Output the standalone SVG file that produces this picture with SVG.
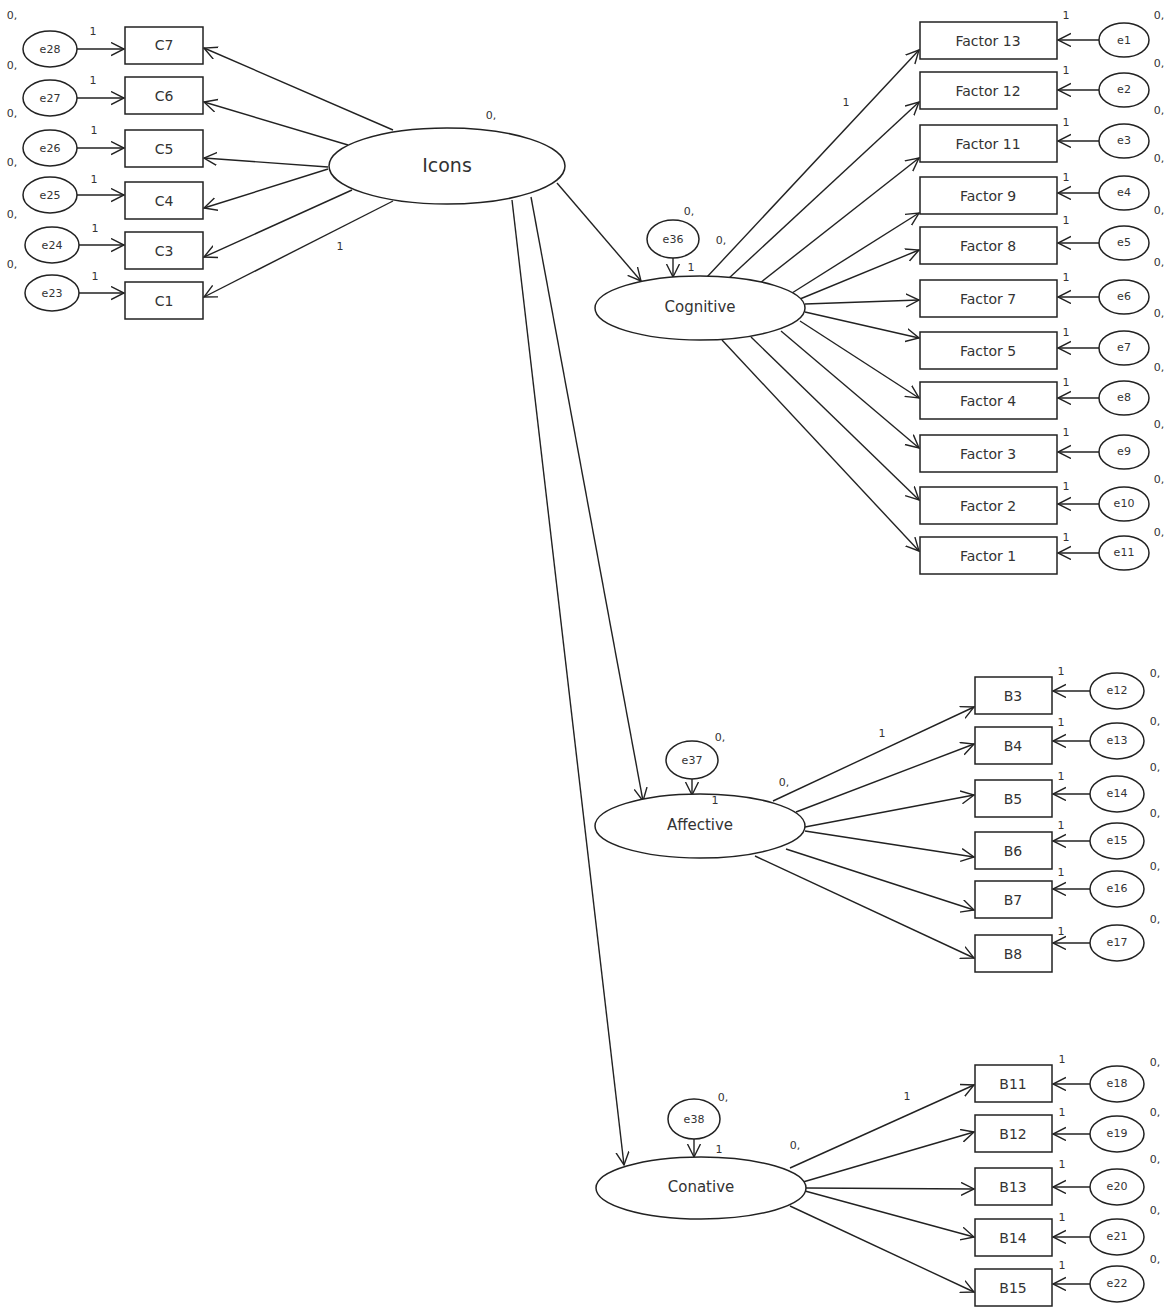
<svg xmlns="http://www.w3.org/2000/svg" width="1165" height="1307" viewBox="0 0 1165 1307">
<defs>
<marker id="arr" markerUnits="userSpaceOnUse" markerWidth="16" markerHeight="16" refX="13" refY="7" orient="auto">
<path d="M0,0.5 L13,7 L0,13.5" fill="none" stroke="#222" stroke-width="1.4"/>
</marker>
<style>
.n ellipse,.n rect{fill:#fff;stroke:#222;stroke-width:1.5}
text{font-family:"DejaVu Sans","Liberation Sans",sans-serif;fill:#333;text-anchor:middle;dominant-baseline:central}
.big{font-size:19px}
.lat{font-size:15px}
.obs{font-size:14px}
.err{font-size:11px}
.lb{font-size:11px}
#conn line{stroke:#222;stroke-width:1.4;marker-end:url(#arr)}
</style>
</defs>
<rect width="1165" height="1307" fill="#fff"/>
<g id="conn">
<line x1="393" y1="130" x2="204" y2="48"/>
<line x1="348" y1="145" x2="204" y2="102"/>
<line x1="328" y1="167" x2="204" y2="158"/>
<line x1="328" y1="169" x2="204" y2="208"/>
<line x1="352" y1="190" x2="204" y2="257"/>
<line x1="393" y1="201" x2="204" y2="297"/>
<line x1="77" y1="49" x2="124" y2="49"/>
<line x1="77" y1="98" x2="124" y2="98"/>
<line x1="77" y1="148" x2="124" y2="148"/>
<line x1="77" y1="195" x2="124" y2="195"/>
<line x1="79" y1="245" x2="124" y2="245"/>
<line x1="79" y1="293" x2="124" y2="293"/>
<line x1="557" y1="183" x2="641" y2="281"/>
<line x1="531" y1="197" x2="643" y2="801"/>
<line x1="512" y1="200" x2="624" y2="1165"/>
<line x1="673" y1="258" x2="673" y2="277"/>
<line x1="692" y1="779" x2="692" y2="795"/>
<line x1="694" y1="1139" x2="694" y2="1157"/>
<line x1="707" y1="277" x2="919" y2="50"/>
<line x1="728" y1="279" x2="919" y2="102"/>
<line x1="760" y1="283" x2="919" y2="158"/>
<line x1="792" y1="293" x2="919" y2="213"/>
<line x1="800" y1="299" x2="919" y2="250"/>
<line x1="805" y1="304" x2="919" y2="300"/>
<line x1="805" y1="312" x2="919" y2="338"/>
<line x1="800" y1="321" x2="919" y2="398"/>
<line x1="781" y1="331" x2="919" y2="448"/>
<line x1="751" y1="337" x2="919" y2="500"/>
<line x1="722" y1="340" x2="919" y2="551"/>
<line x1="1099" y1="40" x2="1058" y2="40"/>
<line x1="1099" y1="90" x2="1058" y2="90"/>
<line x1="1099" y1="141" x2="1058" y2="141"/>
<line x1="1099" y1="193" x2="1058" y2="193"/>
<line x1="1099" y1="243" x2="1058" y2="243"/>
<line x1="1099" y1="297" x2="1058" y2="297"/>
<line x1="1099" y1="348" x2="1058" y2="348"/>
<line x1="1099" y1="398" x2="1058" y2="398"/>
<line x1="1099" y1="452" x2="1058" y2="452"/>
<line x1="1099" y1="504" x2="1058" y2="504"/>
<line x1="1099" y1="553" x2="1058" y2="553"/>
<line x1="773" y1="801" x2="974" y2="707"/>
<line x1="796" y1="812" x2="974" y2="744"/>
<line x1="805" y1="827" x2="974" y2="795"/>
<line x1="805" y1="831" x2="974" y2="857"/>
<line x1="786" y1="849" x2="974" y2="910"/>
<line x1="755" y1="856" x2="974" y2="958"/>
<line x1="1090" y1="691" x2="1053" y2="691"/>
<line x1="1090" y1="741" x2="1053" y2="741"/>
<line x1="1090" y1="794" x2="1053" y2="794"/>
<line x1="1090" y1="841" x2="1053" y2="841"/>
<line x1="1090" y1="889" x2="1053" y2="889"/>
<line x1="1090" y1="943" x2="1053" y2="943"/>
<line x1="790" y1="1168" x2="974" y2="1085"/>
<line x1="803" y1="1182" x2="974" y2="1132"/>
<line x1="806" y1="1188" x2="974" y2="1189"/>
<line x1="805" y1="1191" x2="974" y2="1237"/>
<line x1="790" y1="1206" x2="974" y2="1292"/>
<line x1="1090" y1="1084" x2="1053" y2="1084"/>
<line x1="1090" y1="1134" x2="1053" y2="1134"/>
<line x1="1090" y1="1187" x2="1053" y2="1187"/>
<line x1="1090" y1="1237" x2="1053" y2="1237"/>
<line x1="1090" y1="1284" x2="1053" y2="1284"/>
</g>
<g id="icons" class="n"><ellipse cx="447" cy="166" rx="118" ry="38"/><text x="447" y="165" class="big">Icons</text></g>
<g id="cognitive" class="n"><ellipse cx="700" cy="308" rx="105" ry="32"/><text x="700" y="307" class="lat">Cognitive</text></g>
<g id="affective" class="n"><ellipse cx="700" cy="826" rx="105" ry="32"/><text x="700" y="825" class="lat">Affective</text></g>
<g id="conative" class="n"><ellipse cx="701" cy="1188" rx="105" ry="31"/><text x="701" y="1187" class="lat">Conative</text></g>
<g id="c7" class="n"><rect x="125" y="27" width="78" height="37"/><text x="164" y="45" class="obs">C7</text></g>
<g id="c6" class="n"><rect x="125" y="77" width="78" height="37"/><text x="164" y="96" class="obs">C6</text></g>
<g id="c5" class="n"><rect x="125" y="130" width="78" height="37"/><text x="164" y="149" class="obs">C5</text></g>
<g id="c4" class="n"><rect x="125" y="182" width="78" height="37"/><text x="164" y="201" class="obs">C4</text></g>
<g id="c3" class="n"><rect x="125" y="232" width="78" height="37"/><text x="164" y="251" class="obs">C3</text></g>
<g id="c1" class="n"><rect x="125" y="282" width="78" height="37"/><text x="164" y="301" class="obs">C1</text></g>
<g id="e28" class="n"><ellipse cx="50" cy="49" rx="27" ry="18"/><text x="50" y="49" class="err">e28</text></g>
<g id="e27" class="n"><ellipse cx="50" cy="98" rx="27" ry="18"/><text x="50" y="98" class="err">e27</text></g>
<g id="e26" class="n"><ellipse cx="50" cy="148" rx="27" ry="18"/><text x="50" y="148" class="err">e26</text></g>
<g id="e25" class="n"><ellipse cx="50" cy="195" rx="27" ry="18"/><text x="50" y="195" class="err">e25</text></g>
<g id="e24" class="n"><ellipse cx="52" cy="245" rx="27" ry="18"/><text x="52" y="245" class="err">e24</text></g>
<g id="e23" class="n"><ellipse cx="52" cy="293" rx="27" ry="18"/><text x="52" y="293" class="err">e23</text></g>
<g id="f13" class="n"><rect x="920" y="22" width="137" height="37"/><text x="988" y="41" class="obs">Factor 13</text></g>
<g id="f12" class="n"><rect x="920" y="72" width="137" height="37"/><text x="988" y="91" class="obs">Factor 12</text></g>
<g id="f11" class="n"><rect x="920" y="125" width="137" height="37"/><text x="988" y="144" class="obs">Factor 11</text></g>
<g id="f9" class="n"><rect x="920" y="177" width="137" height="37"/><text x="988" y="196" class="obs">Factor 9</text></g>
<g id="f8" class="n"><rect x="920" y="227" width="137" height="37"/><text x="988" y="246" class="obs">Factor 8</text></g>
<g id="f7" class="n"><rect x="920" y="280" width="137" height="37"/><text x="988" y="299" class="obs">Factor 7</text></g>
<g id="f5" class="n"><rect x="920" y="332" width="137" height="37"/><text x="988" y="351" class="obs">Factor 5</text></g>
<g id="f4" class="n"><rect x="920" y="382" width="137" height="37"/><text x="988" y="401" class="obs">Factor 4</text></g>
<g id="f3" class="n"><rect x="920" y="435" width="137" height="37"/><text x="988" y="454" class="obs">Factor 3</text></g>
<g id="f2" class="n"><rect x="920" y="487" width="137" height="37"/><text x="988" y="506" class="obs">Factor 2</text></g>
<g id="f1" class="n"><rect x="920" y="537" width="137" height="37"/><text x="988" y="556" class="obs">Factor 1</text></g>
<g id="e1" class="n"><ellipse cx="1124" cy="40" rx="25" ry="17"/><text x="1124" y="40" class="err">e1</text></g>
<g id="e2" class="n"><ellipse cx="1124" cy="90" rx="25" ry="17"/><text x="1124" y="89" class="err">e2</text></g>
<g id="e3" class="n"><ellipse cx="1124" cy="141" rx="25" ry="17"/><text x="1124" y="140" class="err">e3</text></g>
<g id="e4" class="n"><ellipse cx="1124" cy="193" rx="25" ry="17"/><text x="1124" y="192" class="err">e4</text></g>
<g id="e5" class="n"><ellipse cx="1124" cy="243" rx="25" ry="17"/><text x="1124" y="242" class="err">e5</text></g>
<g id="e6" class="n"><ellipse cx="1124" cy="297" rx="25" ry="17"/><text x="1124" y="296" class="err">e6</text></g>
<g id="e7" class="n"><ellipse cx="1124" cy="348" rx="25" ry="17"/><text x="1124" y="347" class="err">e7</text></g>
<g id="e8" class="n"><ellipse cx="1124" cy="398" rx="25" ry="17"/><text x="1124" y="397" class="err">e8</text></g>
<g id="e9" class="n"><ellipse cx="1124" cy="452" rx="25" ry="17"/><text x="1124" y="451" class="err">e9</text></g>
<g id="e10" class="n"><ellipse cx="1124" cy="504" rx="25" ry="17"/><text x="1124" y="503" class="err">e10</text></g>
<g id="e11" class="n"><ellipse cx="1124" cy="553" rx="25" ry="17"/><text x="1124" y="552" class="err">e11</text></g>
<g id="e36" class="n"><ellipse cx="673" cy="239" rx="26" ry="19"/><text x="673" y="239" class="err">e36</text></g>
<g id="e37" class="n"><ellipse cx="692" cy="760" rx="26" ry="19"/><text x="692" y="760" class="err">e37</text></g>
<g id="e38" class="n"><ellipse cx="694" cy="1119" rx="26" ry="20"/><text x="694" y="1119" class="err">e38</text></g>
<g id="b3" class="n"><rect x="975" y="677" width="77" height="37"/><text x="1013" y="696" class="obs">B3</text></g>
<g id="b4" class="n"><rect x="975" y="727" width="77" height="37"/><text x="1013" y="746" class="obs">B4</text></g>
<g id="b5" class="n"><rect x="975" y="780" width="77" height="37"/><text x="1013" y="799" class="obs">B5</text></g>
<g id="b6" class="n"><rect x="975" y="832" width="77" height="37"/><text x="1013" y="851" class="obs">B6</text></g>
<g id="b7" class="n"><rect x="975" y="881" width="77" height="37"/><text x="1013" y="900" class="obs">B7</text></g>
<g id="b8" class="n"><rect x="975" y="935" width="77" height="37"/><text x="1013" y="954" class="obs">B8</text></g>
<g id="e12" class="n"><ellipse cx="1117" cy="691" rx="27" ry="18"/><text x="1117" y="690" class="err">e12</text></g>
<g id="e13" class="n"><ellipse cx="1117" cy="741" rx="27" ry="18"/><text x="1117" y="740" class="err">e13</text></g>
<g id="e14" class="n"><ellipse cx="1117" cy="794" rx="27" ry="18"/><text x="1117" y="793" class="err">e14</text></g>
<g id="e15" class="n"><ellipse cx="1117" cy="841" rx="27" ry="18"/><text x="1117" y="840" class="err">e15</text></g>
<g id="e16" class="n"><ellipse cx="1117" cy="889" rx="27" ry="18"/><text x="1117" y="888" class="err">e16</text></g>
<g id="e17" class="n"><ellipse cx="1117" cy="943" rx="27" ry="18"/><text x="1117" y="942" class="err">e17</text></g>
<g id="b11" class="n"><rect x="975" y="1065" width="77" height="37"/><text x="1013" y="1084" class="obs">B11</text></g>
<g id="b12" class="n"><rect x="975" y="1115" width="77" height="37"/><text x="1013" y="1134" class="obs">B12</text></g>
<g id="b13" class="n"><rect x="975" y="1168" width="77" height="37"/><text x="1013" y="1187" class="obs">B13</text></g>
<g id="b14" class="n"><rect x="975" y="1219" width="77" height="37"/><text x="1013" y="1238" class="obs">B14</text></g>
<g id="b15" class="n"><rect x="975" y="1269" width="77" height="37"/><text x="1013" y="1288" class="obs">B15</text></g>
<g id="e18" class="n"><ellipse cx="1117" cy="1084" rx="27" ry="18"/><text x="1117" y="1083" class="err">e18</text></g>
<g id="e19" class="n"><ellipse cx="1117" cy="1134" rx="27" ry="18"/><text x="1117" y="1133" class="err">e19</text></g>
<g id="e20" class="n"><ellipse cx="1117" cy="1187" rx="27" ry="18"/><text x="1117" y="1186" class="err">e20</text></g>
<g id="e21" class="n"><ellipse cx="1117" cy="1237" rx="27" ry="18"/><text x="1117" y="1236" class="err">e21</text></g>
<g id="e22" class="n"><ellipse cx="1117" cy="1284" rx="27" ry="18"/><text x="1117" y="1283" class="err">e22</text></g>
<g id="labels" class="lb">
<text x="12" y="15">0,</text><text x="12" y="65">0,</text><text x="12" y="113">0,</text><text x="12" y="162">0,</text><text x="12" y="214">0,</text><text x="12" y="264">0,</text>
<text x="93" y="31">1</text><text x="93" y="80">1</text><text x="94" y="130">1</text><text x="94" y="179">1</text><text x="95" y="228">1</text><text x="95" y="276">1</text>
<text x="491" y="115">0,</text><text x="340" y="246">1</text>
<text x="689" y="211">0,</text><text x="721" y="240">0,</text><text x="691" y="267">1</text><text x="846" y="102">1</text>
<text x="1066" y="15">1</text><text x="1066" y="70">1</text><text x="1066" y="122">1</text><text x="1066" y="177">1</text><text x="1066" y="220">1</text><text x="1066" y="277">1</text><text x="1066" y="332">1</text><text x="1066" y="382">1</text><text x="1066" y="432">1</text><text x="1066" y="486">1</text><text x="1066" y="537">1</text>
<text x="1159" y="15">0,</text><text x="1159" y="63">0,</text><text x="1159" y="110">0,</text><text x="1159" y="158">0,</text><text x="1159" y="210">0,</text><text x="1159" y="262">0,</text><text x="1159" y="313">0,</text><text x="1159" y="367">0,</text><text x="1159" y="424">0,</text><text x="1159" y="479">0,</text><text x="1159" y="532">0,</text>
<text x="720" y="737">0,</text><text x="715" y="800">1</text><text x="784" y="782">0,</text><text x="882" y="733">1</text>
<text x="1061" y="671">1</text><text x="1061" y="722">1</text><text x="1061" y="776">1</text><text x="1061" y="825">1</text><text x="1061" y="872">1</text><text x="1061" y="931">1</text>
<text x="1155" y="673">0,</text><text x="1155" y="721">0,</text><text x="1155" y="767">0,</text><text x="1155" y="813">0,</text><text x="1155" y="866">0,</text><text x="1155" y="919">0,</text>
<text x="723" y="1097">0,</text><text x="719" y="1149">1</text><text x="795" y="1145">0,</text><text x="907" y="1096">1</text>
<text x="1062" y="1059">1</text><text x="1062" y="1112">1</text><text x="1062" y="1164">1</text><text x="1062" y="1217">1</text><text x="1062" y="1265">1</text>
<text x="1155" y="1062">0,</text><text x="1155" y="1112">0,</text><text x="1155" y="1159">0,</text><text x="1155" y="1210">0,</text><text x="1155" y="1259">0,</text>
</g>
</svg>
